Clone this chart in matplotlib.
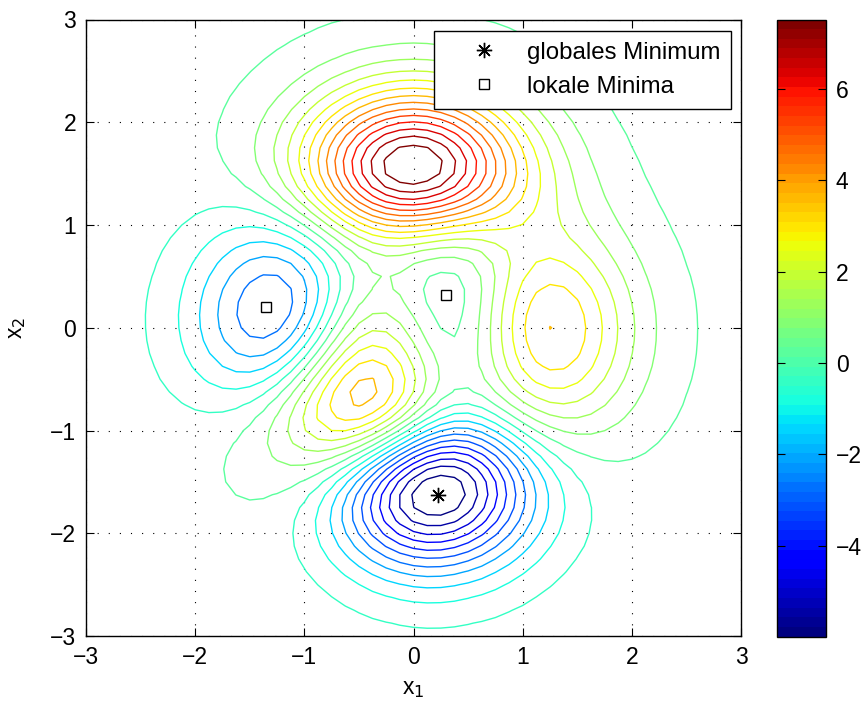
import numpy as np
import matplotlib
matplotlib.use("Agg")
import matplotlib.pyplot as plt
from matplotlib.colors import ListedColormap, Normalize
from matplotlib.lines import Line2D

plt.rcParams['font.family'] = ['Liberation Sans', 'DejaVu Sans']

# grid of the MATLAB "peaks" test function (the plotted surface)
x1 = np.linspace(-3, 3, 49)
x2 = np.linspace(-3, 3, 49)
n_levels = 25

# marker positions
glob_min_x = [0.228]
glob_min_y = [-1.626]
loc_min_x = [-1.347, 0.296]
loc_min_y = [0.205, 0.320]

legend_labels = ["globales Minimum", "lokale Minima"]
x_ticks = [-3, -2, -1, 0, 1, 2, 3]
y_ticks = [-3, -2, -1, 0, 1, 2, 3]
cb_ticks = [-4, -2, 0, 2, 4, 6]

X, Y = np.meshgrid(x1, x2)
Z = (3 * (1 - X) ** 2 * np.exp(-X ** 2 - (Y + 1) ** 2)
     - 10 * (X / 5 - X ** 3 - Y ** 5) * np.exp(-X ** 2 - Y ** 2)
     - 1 / 3 * np.exp(-(X + 1) ** 2 - Y ** 2))

zmin, zmax = Z.min(), Z.max()
levels = np.linspace(zmin, zmax, n_levels + 2)[1:-1]

cmap = ListedColormap(plt.get_cmap('jet')(np.linspace(0, 1, 64)))
norm = Normalize(vmin=levels[0], vmax=levels[-1])

W, H = 863, 708
fig = plt.figure(figsize=(W / 100, H / 100), dpi=100)
ax = fig.add_axes([86 / W, (H - 636) / H, (741 - 86) / W, (636 - 19.5) / H])
cax = fig.add_axes([777 / W, (H - 636.5) / H, (826 - 777) / W, (636.5 - 19.5) / H])

ax.contour(X, Y, Z, levels=levels, cmap=cmap, norm=norm, linewidths=1.0)

ax.plot(glob_min_x, glob_min_y, linestyle='none', marker=(8, 2, 0),
        markersize=11, color='k', markeredgewidth=1.0)
ax.plot(loc_min_x, loc_min_y, linestyle='none', marker='s', markersize=7.5,
        markerfacecolor='white', markeredgecolor='k', markeredgewidth=1.0)

ax.set_xlim(-3, 3)
ax.set_ylim(-3, 3)
ax.set_xticks(x_ticks)
ax.set_yticks(y_ticks)
ax.set_xticklabels([str(t).replace('-', '\u2212') for t in x_ticks])
ax.set_yticklabels([str(t).replace('-', '\u2212') for t in y_ticks])
ax.tick_params(direction='in', length=6, width=0.8, top=True, right=True,
               labelsize=16.5, pad=7)
ax.grid(True, color='k', linestyle=(0, (1, 9)), linewidth=0.8)
for s in ax.spines.values():
    s.set_linewidth(1.0)

ax.set_xlabel('x$_1$', fontsize=16.5, labelpad=6)
ax.set_ylabel('x$_2$', fontsize=16.5, labelpad=16)

handles = [Line2D([], [], linestyle='none', marker=(8, 2, 0), markersize=11,
                  color='k', markeredgewidth=1.0),
           Line2D([], [], linestyle='none', marker='s', markersize=7.5,
                  markerfacecolor='white', markeredgecolor='k', markeredgewidth=1.0)]
leg = ax.legend(handles, legend_labels, loc='upper right', fontsize=17.3,
                fancybox=False, framealpha=1, edgecolor='k',
                bbox_to_anchor=(0.9847, 0.9813), borderaxespad=0,
                handlelength=3.3, handletextpad=0.12, labelspacing=0.5,
                borderpad=0.45)
leg.get_frame().set_linewidth(1.0)

sm = plt.cm.ScalarMappable(norm=norm, cmap=cmap)
cb = fig.colorbar(sm, cax=cax)
cb.set_ticks(cb_ticks)
cb.set_ticklabels([str(t).replace('-', '\u2212') for t in cb_ticks])
cax.tick_params(direction='in', length=6, width=0.8, left=True, right=True,
                labelsize=16.5, pad=7)
cb.outline.set_linewidth(1.0)

fig.savefig('out.png', dpi=100)
